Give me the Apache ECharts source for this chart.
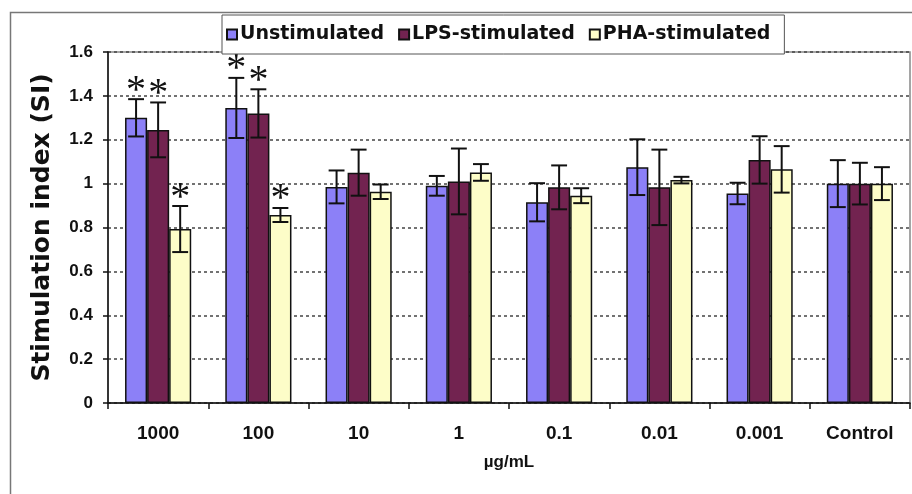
<!DOCTYPE html>
<html>
<head>
<meta charset="utf-8">
<script src="https://cdn.jsdelivr.net/npm/echarts@6/dist/echarts.min.js"></script>
<style>
  html, body { margin: 0; padding: 0; background: #fff; }
  #main { width: 912px; height: 494px; }
</style>
</head>
<body>
<div id="main"></div>
<script>
// doses
var categories = ['1000', '100', '10', '1', '0.1', '0.01', '0.001', 'Control'];
var seriesNames = ['Unstimulated', 'LPS-stimulated', 'PHA-stimulated'];

// mean SI
var unstim = [1.30, 1.345, 0.985, 0.99, 0.915, 1.075, 0.955, 1.0];
var lps    = [1.245, 1.32, 1.05, 1.01, 0.983, 0.983, 1.108, 1.0];
var pha    = [0.793, 0.857, 0.963, 1.051, 0.945, 1.016, 1.065, 1.0];

// error (+/-)
var unstimErr = [0.085, 0.137, 0.075, 0.045, 0.087, 0.127, 0.049, 0.107];
var lpsErr    = [0.125, 0.11, 0.105, 0.15, 0.1, 0.172, 0.108, 0.095];
var phaErr    = [0.105, 0.032, 0.033, 0.038, 0.034, 0.015, 0.106, 0.075];

// significance stars
var unstimSig = [1, 1, 0, 0, 0, 0, 0, 0];
var lpsSig    = [1, 1, 0, 0, 0, 0, 0, 0];
var phaSig    = [1, 1, 0, 0, 0, 0, 0, 0];

var yTicks = { min: 0, max: 1.6, step: 0.2 };

var colors = ['#8c80f7', '#722350', '#fdfdc8'];
var means = [unstim, lps, pha];
var errs = [unstimErr, lpsErr, phaErr];
var sigs = [unstimSig, lpsSig, phaSig];

var gapPct = 0.34;

function errSeries(k) {
  var data = categories.map(function (c, i) {
    return [i, means[k][i] - errs[k][i], means[k][i] + errs[k][i], sigs[k][i]];
  });
  return {
    type: 'custom',
    name: seriesNames[k] + ' err',
    z: 10,
    silent: true,
    clip: false,
    renderItem: function (params, api) {
      var x = api.value(0);
      var pHi = api.coord([x, api.value(2)]);
      var pLo = api.coord([x, api.value(1)]);
      var band = api.size([1, 0])[0];
      var bw = band * (1 - gapPct) / 3;
      var cx = pHi[0] + (k - 1) * bw;
      var cap = bw * 0.36;
      var st = { stroke: '#111', lineWidth: 2 };
      var kids = [
        { type: 'line', shape: { x1: cx, y1: pHi[1], x2: cx, y2: pLo[1] }, style: st },
        { type: 'line', shape: { x1: cx - cap, y1: pHi[1], x2: cx + cap, y2: pHi[1] }, style: st },
        { type: 'line', shape: { x1: cx - cap, y1: pLo[1], x2: cx + cap, y2: pLo[1] }, style: st }
      ];
      if (api.value(3)) {
        kids.push({
          type: 'text',
          style: {
            text: '*', x: cx, y: pHi[1] - 8,
            align: 'center', verticalAlign: 'middle',
            fontFamily: 'Liberation Serif', fontSize: 40, fill: '#111'
          }
        });
      }
      return { type: 'group', children: kids };
    },
    data: data
  };
}

var series = [];
for (var k = 0; k < 3; k++) {
  series.push({
    name: seriesNames[k],
    type: 'bar',
    data: means[k],
    barGap: '0%',
    barCategoryGap: (gapPct * 100) + '%',
    itemStyle: { color: colors[k], borderColor: '#111', borderWidth: 1.5 }
  });
}
for (var k2 = 0; k2 < 3; k2++) series.push(errSeries(k2));

var chart = echarts.init(document.getElementById('main'));
chart.setOption({
  backgroundColor: '#fff',
  animation: false,
  textStyle: { fontFamily: 'Liberation Sans, Arial, sans-serif' },
  graphic: [{
    type: 'rect', left: 8, top: 10, z: -10,
    shape: { width: 1000, height: 600 },
    style: { fill: 'none', stroke: '#777', lineWidth: 1.5 }
  }],
  legend: {
    data: seriesNames,
    left: 222, top: 15,
    padding: [10, 14, 10, 4],
    itemGap: 14,
    itemWidth: 10, itemHeight: 10,
    icon: 'rect',
    backgroundColor: '#fff',
    borderColor: '#555', borderWidth: 1,
    z: 20,
    textStyle: {
      fontFamily: 'DejaVu Sans', fontSize: 19, fontWeight: 'bold',
      color: '#111', padding: [0, 0, 0, -2]
    }
  },
  grid: {
    left: 108, right: 2, top: 52, bottom: 91,
    show: true, borderColor: '#888', borderWidth: 1.5, backgroundColor: '#fff'
  },
  xAxis: {
    type: 'category',
    data: categories,
    name: 'µg/mL',
    nameLocation: 'middle',
    nameGap: 51,
    nameTextStyle: { fontSize: 17, fontWeight: 'bold', color: '#111' },
    axisLine: { lineStyle: { color: '#111', width: 1.5 } },
    axisTick: { show: true, length: 6, lineStyle: { color: '#111', width: 1.5 } },
    axisLabel: { margin: 21, fontSize: 19, fontWeight: 'bold', color: '#111' }
  },
  yAxis: {
    type: 'value',
    min: yTicks.min, max: yTicks.max, interval: yTicks.step,
    name: 'Stimulation index (SI)',
    nameLocation: 'middle',
    nameGap: 53,
    nameTextStyle: { fontFamily: 'DejaVu Sans', fontSize: 25, fontWeight: 'bold', color: '#111' },
    axisLine: { show: true, lineStyle: { color: '#111', width: 1.5 } },
    axisTick: { show: true, length: 5, lineStyle: { color: '#111', width: 1.5 } },
    axisLabel: { margin: 15, fontSize: 17, fontWeight: 'bold', color: '#111' },
    splitLine: { show: true, lineStyle: { color: '#444', type: [3, 3], width: 1.5 } }
  },
  series: series
});
</script>
</body>
</html>
